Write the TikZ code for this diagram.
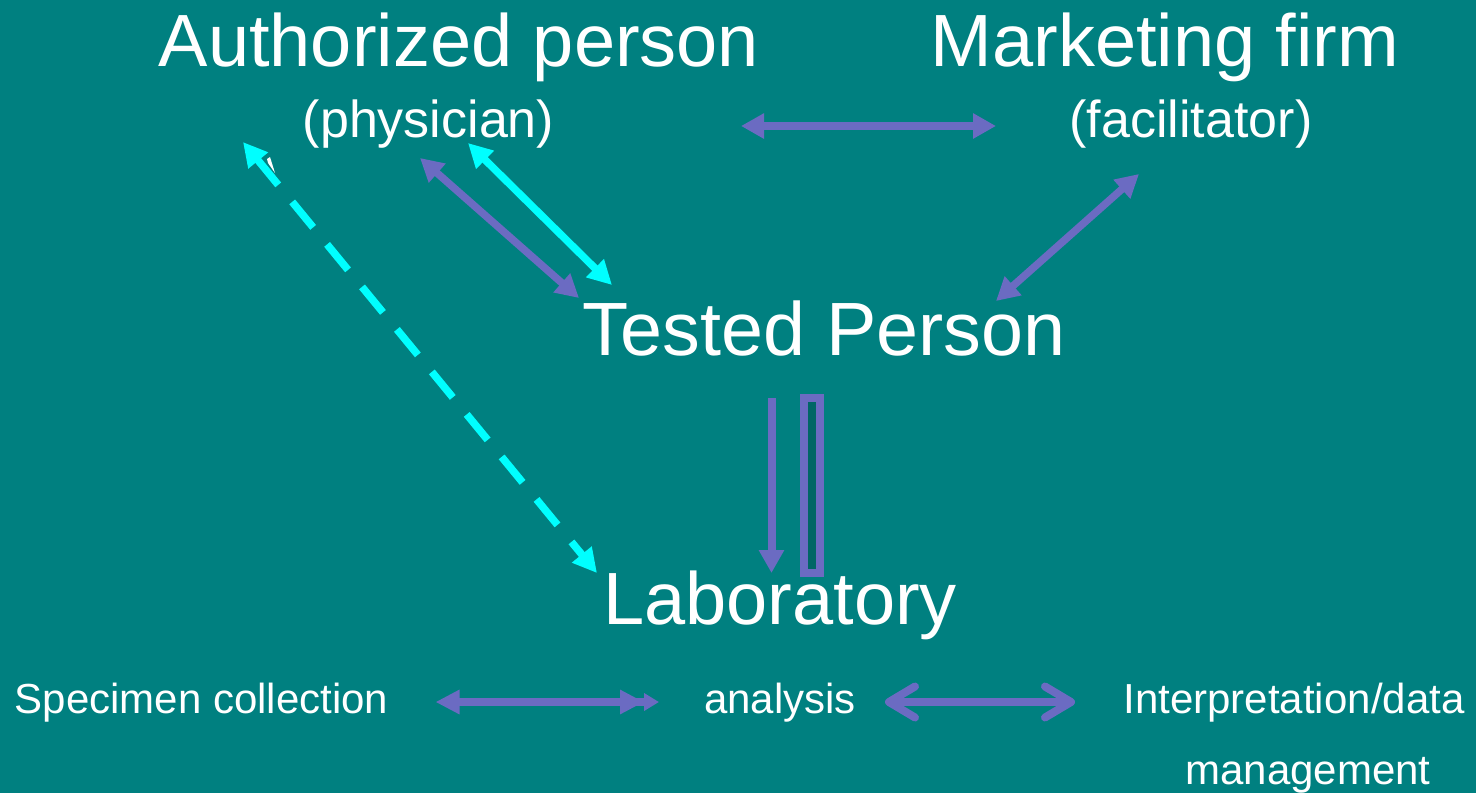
\documentclass[tikz,border=0pt]{standalone}
\usepackage{fontspec}
\setmainfont{Liberation Sans}
\usetikzlibrary{arrows.meta}
\definecolor{bg}{RGB}{0,128,128}
\definecolor{purp}{RGB}{107,107,194}
\definecolor{cyanc}{RGB}{0,255,255}
\definecolor{darkin}{RGB}{0,102,102}
\tikzset{
  big/.style={text=white, font=\fontsize{74}{80}\selectfont, inner sep=0pt, anchor=base},
  mid/.style={text=white, font=\fontsize{52}{60}\selectfont, inner sep=0pt, anchor=base},
  small/.style={text=white, font=\fontsize{42}{50}\selectfont, inner sep=0pt, anchor=base},
  parrow/.style={draw=purp, line width=7.5pt, {Triangle[length=23pt,width=24pt]}-{Triangle[length=23pt,width=24pt]}},
  carrow/.style={draw=cyanc, line width=7.5pt, {Triangle[length=24pt,width=24pt]}-{Triangle[length=24pt,width=24pt]}},
}
\begin{document}
\begin{tikzpicture}[x=1pt,y=-1pt]
\fill[bg] (0,0) rectangle (1476,793);
\useasboundingbox (0,0) rectangle (1476,793);

% texts
\node[big] (auth) at (459,66) {Authorized person};
\node[mid] (phys) at (428.5,137) {(physician)};
\node[big] (mkt) at (1165,66) {Marketing firm};
\node[mid] (fac) at (1191,137) {(facilitator)};
\node[big, font=\fontsize{75.5}{80}\selectfont] (tested) at (824,355) {Tested Person};
\node[big] (lab) at (780,624) {Laboratory};
\node[small] (spec) at (201.5,713) {Specimen collection};
\node[small] (ana) at (780,713) {analysis};
\node[small] (interp) at (1294,713) {Interpretation/data};
\node[small] (mgmt) at (1308,784) {management};

% connector end points
\coordinate (h1) at (741,126);
\coordinate (h2) at (996,126);
\coordinate (m1) at (1139,174);
\coordinate (m2) at (996,301);
\coordinate (p1) at (420,158);
\coordinate (p2) at (579,298);
\coordinate (c1) at (468,143);
\coordinate (c2) at (612,285);
\coordinate (d1) at (243,142);
\coordinate (d2) at (597,573);
\coordinate (v1) at (771.5,398);
\coordinate (v2) at (771.5,573);
\coordinate (s1) at (435.5,702);
\coordinate (s2) at (659,702);
\coordinate (a1) at (885,702);
\coordinate (a2) at (1075,702);

% arrows
\draw[parrow] (h1) -- (h2);
\draw[parrow] (m1) -- (m2);
\draw[parrow] (p1) -- (p2);
\draw[carrow] (c1) -- (c2);
\draw[carrow, dash pattern=on 33pt off 22pt] (d1) -- (d2);
\fill[white] (267,159) -- (270,157) -- (275,173) -- (268,163) -- cycle;
\draw[draw=purp, line width=8pt, -{Triangle[length=23pt,width=24pt]}] (v1) -- (v2);
\draw[draw=purp, line width=8pt, fill=darkin] (804,398) rectangle (820,573);
\draw[draw=purp, line width=7.5pt, {Triangle[length=24pt,width=23pt]}-{Triangle[length=24pt,width=23pt]Triangle[length=15pt,width=17pt]}] (s1) -- (s2);
\draw[draw=purp, line width=7.5pt, {Straight Barb[length=26pt,width=31pt,line width=8pt,round]}-{Straight Barb[length=26pt,width=31pt,line width=8pt,round]}] (a1) -- (a2);
\end{tikzpicture}
\end{document}
